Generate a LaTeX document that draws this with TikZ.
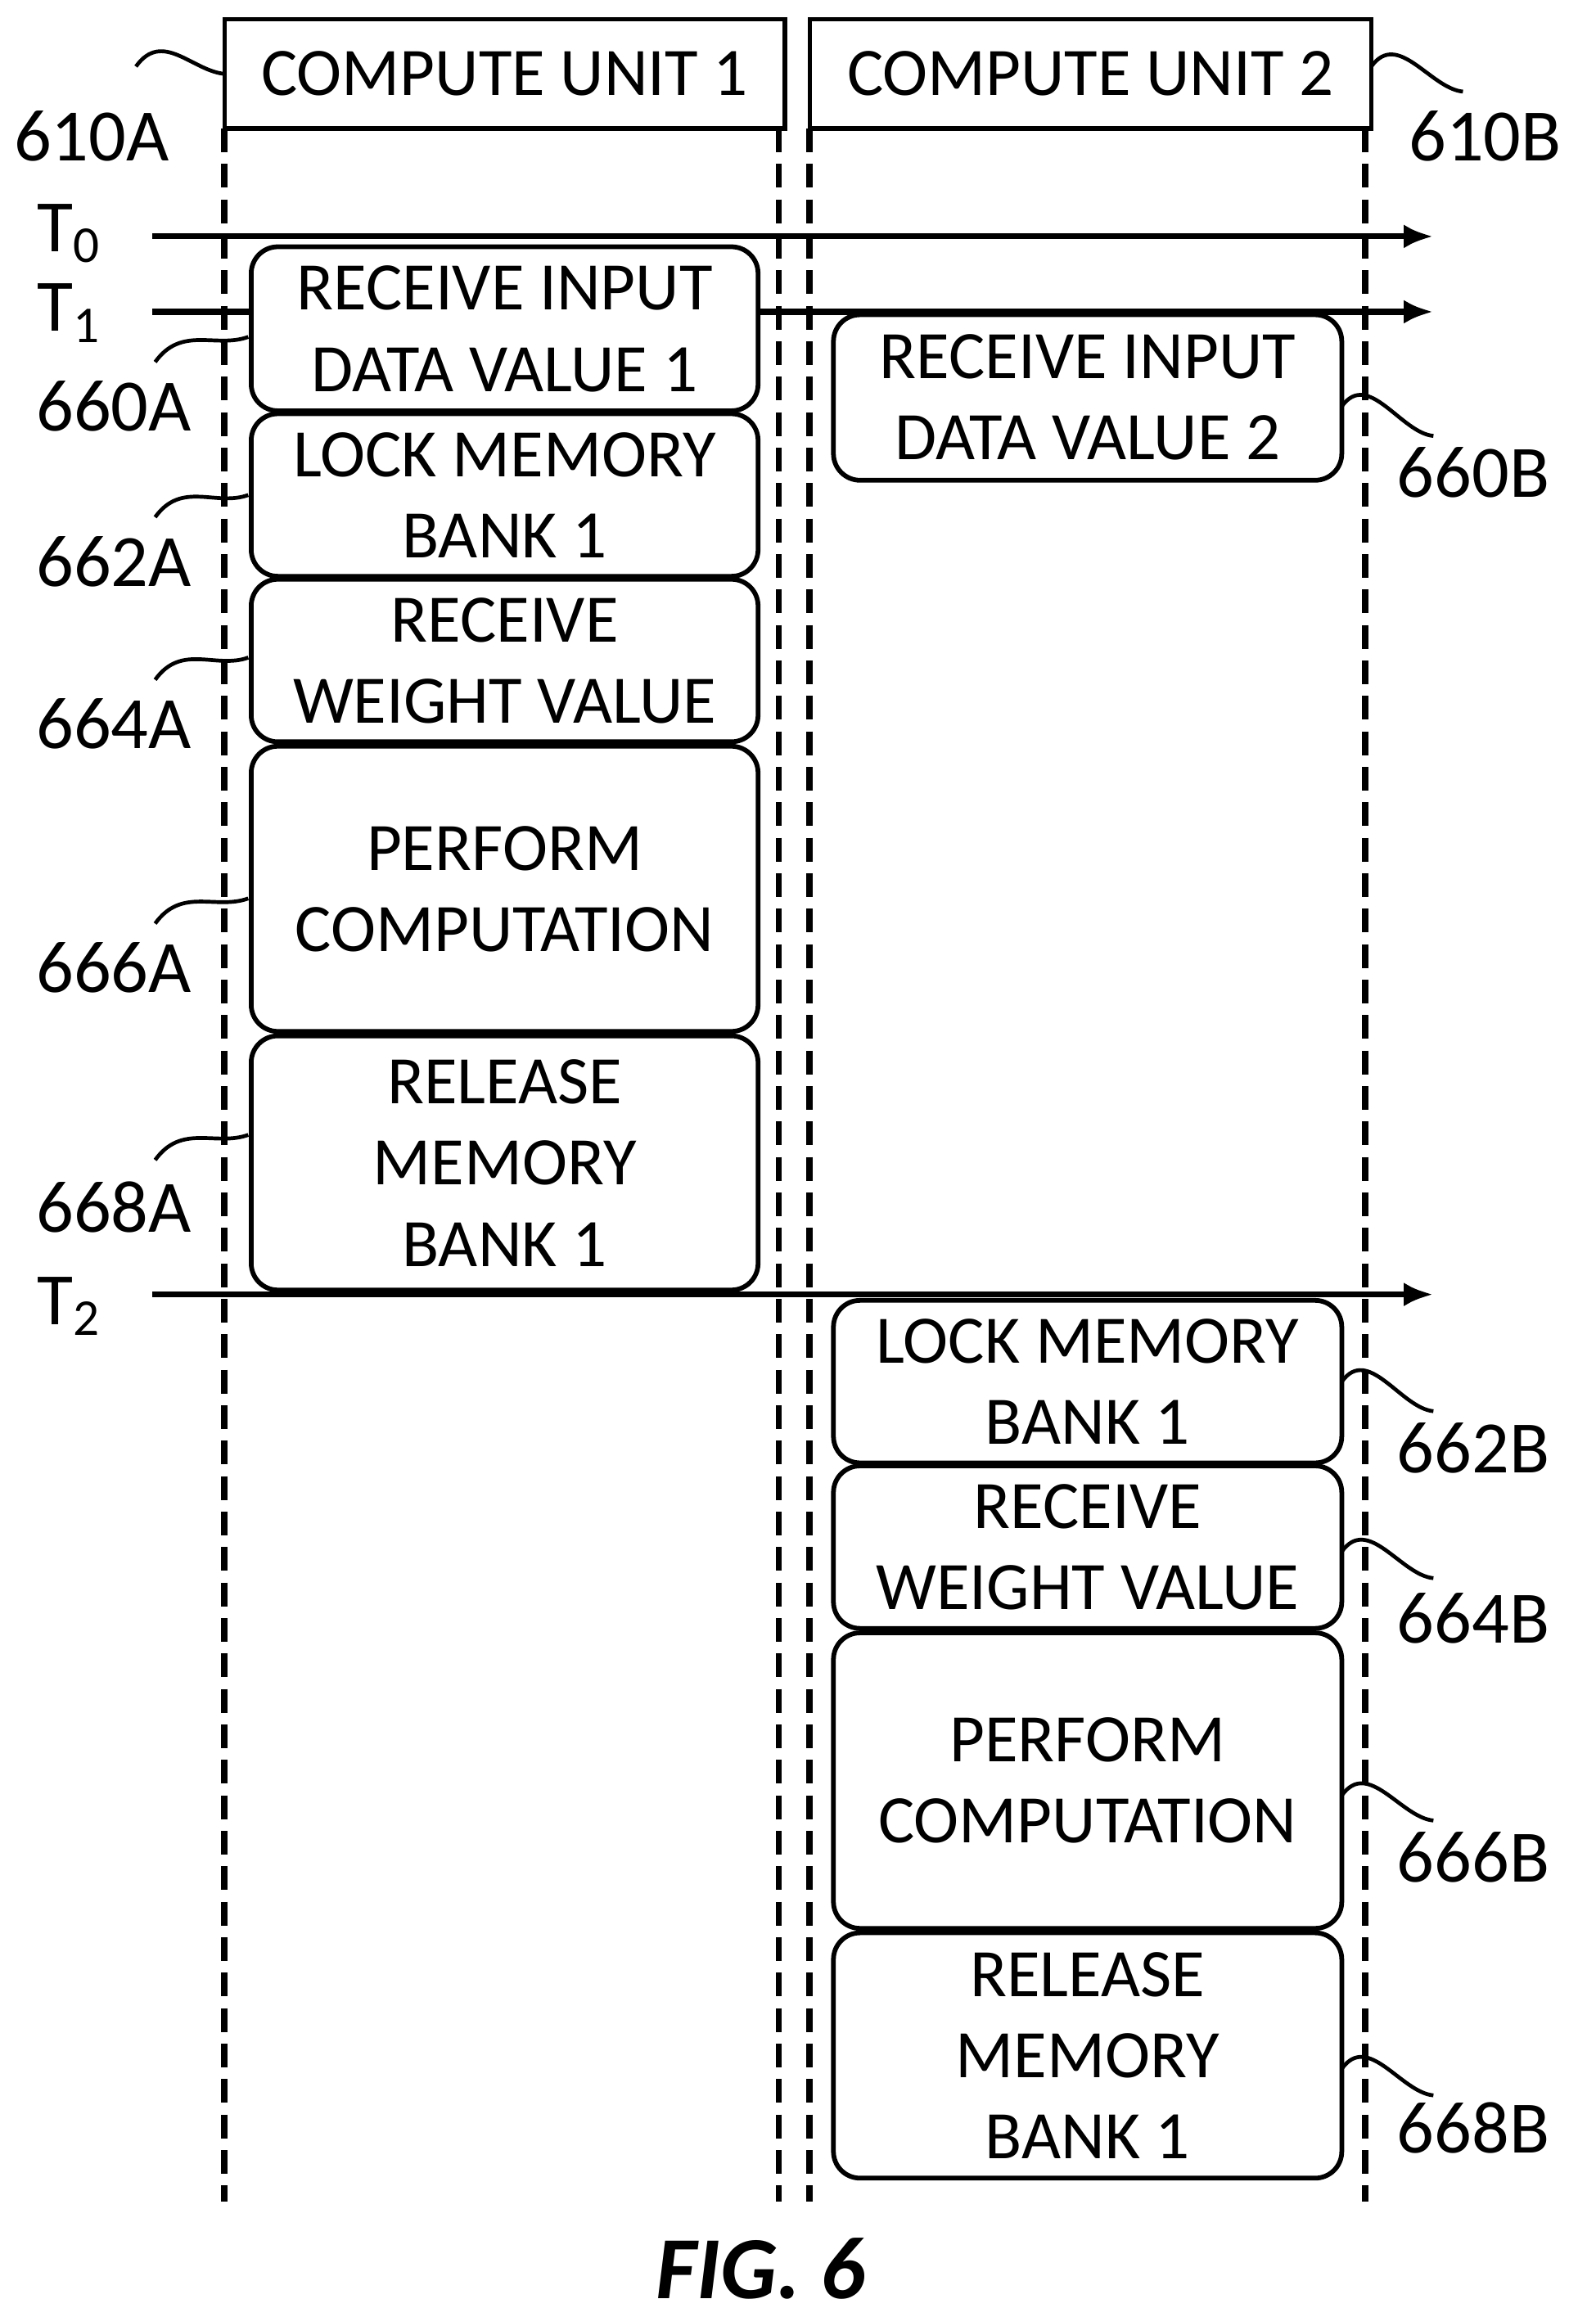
\documentclass[tikz,border=0pt]{standalone}
\usepackage{fontspec}
\setmainfont{Carlito}
\usetikzlibrary{arrows.meta,calc}
\begin{document}
\begin{tikzpicture}[x=0.5pt,y=-0.5pt,
  txt/.style={font=\fontsize{23}{27.5}\selectfont,align=center},
  box/.style={draw,line width=1.6pt,rounded corners=9pt,fill=white,inner sep=0pt},
  hdr/.style={draw,line width=1.6pt,fill=white,inner sep=0pt},
  dsh/.style={line width=2.2pt,dash pattern=on 8pt off 4pt},
  tl/.style={line width=2pt,-{Latex[length=10pt,width=8pt]}},
  lead/.style={line width=1.3pt},
  lbl/.style={font=\fontsize{25}{29}\selectfont}]
\useasboundingbox (0,0) rectangle (1080,1568);
% headers
\node[hdr,txt,minimum width=189.5pt,minimum height=37pt] (cu1) at (341.5,50) {COMPUTE UNIT 1};
\node[hdr,txt,minimum width=190pt,minimum height=37pt] (cu2) at (738,50) {COMPUTE UNIT 2};
% dashed lifelines
\foreach \x/\n in {152/a,527/b,548/c,924/d}{
  \coordinate (s\n) at (\x,87); \coordinate (e\n) at (\x,1490);
  \draw[dsh] (s\n) -- (e\n);}
% time lines
\coordinate (t0s) at (103,160); \coordinate (t0e) at (970,160);
\coordinate (t1s) at (103,211); \coordinate (t1e) at (970,211);
\coordinate (t2s) at (103,876); \coordinate (t2e) at (970,876);
\draw[tl] (t0s) -- (t0e);
\draw[tl] (t1s) -- (t1e);
\draw[tl] (t2s) -- (t2e);
\node[lbl] (T0) at (47,158) {T\textsubscript{0}};
\node[lbl] (T1) at (47,212) {T\textsubscript{1}};
\node[lbl] (T2) at (47,884) {T\textsubscript{2}};
% boxes
\newcommand{\bx}[5]{\node[box,txt,minimum width=#3*0.5pt,minimum height=#4*0.5pt] (#1) at (#2) {#5};}
\bx{a0}{341.5,222.5}{343}{111}{RECEIVE INPUT\\DATA VALUE 1}
\bx{a2}{341.5,335}{343}{110}{LOCK MEMORY\\BANK 1}
\bx{a4}{341.5,447}{343}{110}{RECEIVE\\WEIGHT VALUE}
\bx{a6}{341.5,601.5}{343}{193}{PERFORM\\COMPUTATION}
\bx{a8}{341.5,787}{343}{172}{RELEASE\\MEMORY\\BANK 1}
\bx{b0}{736,269}{344}{112}{RECEIVE INPUT\\DATA VALUE 2}
\bx{b2}{736,935}{344}{110}{LOCK MEMORY\\BANK 1}
\bx{b4}{736,1047}{344}{110}{RECEIVE\\WEIGHT VALUE}
\bx{b6}{736,1205}{344}{200}{PERFORM\\COMPUTATION}
\bx{b8}{736,1391}{344}{166}{RELEASE\\MEMORY\\BANK 1}
% labels
\node[lbl] (l610a) at (62,92) {610A};
\node[lbl] (l610b) at (1005,92) {610B};
\foreach \n/\y in {660A/275,662A/380,664A/490,666A/655,668A/817}
  \node[lbl] (l\n) at (77,\y) {\n};
\foreach \n/\y in {660B/320,662B/980,664B/1095,666B/1257,668B/1440}
  \node[lbl] (l\n) at (997,\y) {\n};
% leaders
\newcommand{\ld}[4]{\coordinate (p#1) at (#2); \coordinate (q#1) at (#3);
  \draw[lead] (p#1) .. controls ($(p#1)+(18,-25)$) and ($(q#1)+(-22,#4)$) .. (q#1);}
\ld{1}{92,45}{152,50}{-2}
\ld{2}{928,45}{990,62}{-2}
\ld{3}{105,245}{168,228}{8}
\ld{4}{105,350}{168,335}{8}
\ld{5}{105,460}{168,445}{8}
\ld{6}{105,625}{168,608}{8}
\ld{7}{105,785}{168,768}{8}
\ld{8}{908,275}{970,295}{-2}
\ld{9}{908,935}{970,955}{-2}
\ld{10}{908,1050}{970,1068}{-2}
\ld{11}{908,1215}{970,1232}{-2}
\ld{12}{908,1400}{970,1418}{-2}
\node[font=\fontsize{30}{34}\selectfont\bfseries\itshape] (fig) at (515,1535) {FIG. 6};
\end{tikzpicture}
\end{document}
